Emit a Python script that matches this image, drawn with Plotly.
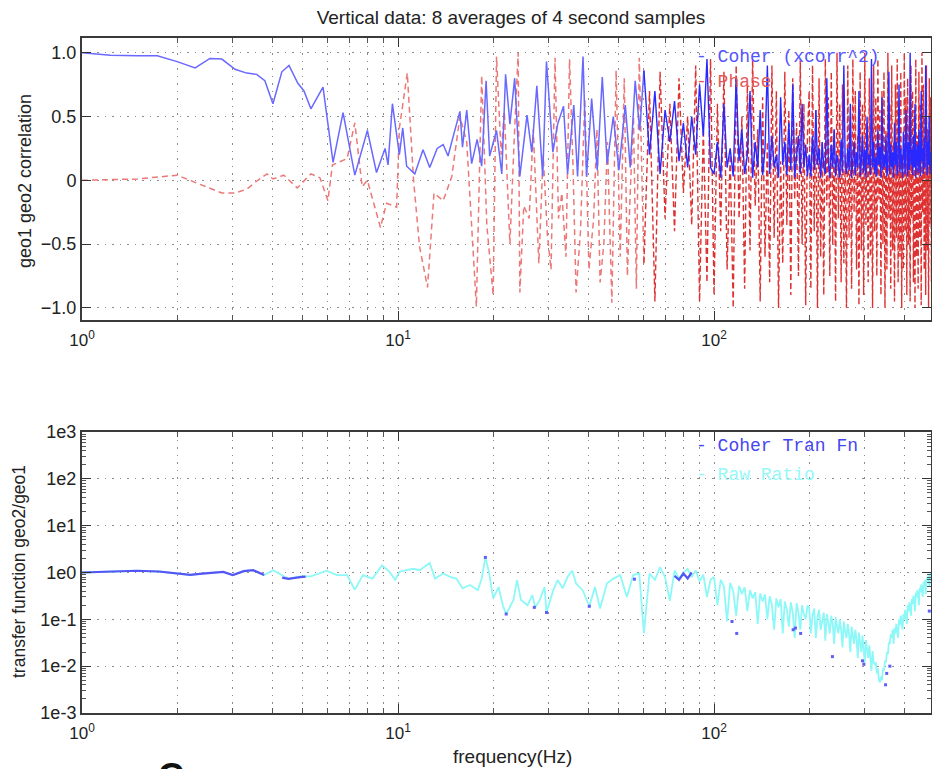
import numpy as np
import plotly.graph_objects as go

# ---------------- data ----------------
# Top panel: coherence (xcorr^2), frequencies in Hz
coh_lo_f = [1.0, 1.23, 1.5, 1.73, 2.0, 2.28, 2.54, 2.77, 3.05, 3.32, 3.57, 3.79, 4.02, 4.29, 4.52, 4.82,
            5.04, 5.3, 5.79, 6.23, 6.7, 7.3, 8.0, 8.55, 9.1, 9.3, 9.6, 10.1, 10.35, 10.65, 11.3, 12.0, 12.6,
            13.3, 13.9, 14.4, 14.9, 15.7, 16.0, 16.5, 17.1, 17.8, 18.4, 19.0, 19.5, 20.5, 21.3, 21.9, 22.6,
            23.4, 24.3, 25.6, 26.5, 27.5, 28.7, 29.5, 30.9, 32.0, 33.4, 34.4, 36.0, 37.0, 38.5, 39.5, 41.0,
            42.7, 44.3, 45.9, 48.0, 50.0, 52.4, 54.3, 56.3, 58.2]
coh_lo_v = [1.0, .98, .975, .975, .93, .88, .955, .95, .87, .84, .83, .78, .6, .85, .9, .76, .7, .56, .73,
            .14, .53, .04, .39, .06, .25, .12, .6, .2, .41, .11, .05, .24, .1, .25, .28, .19, .33, .54, .26,
            .55, .13, .32, .11, .78, .19, .39, .05, .83, .44, .8, .03, .51, .22, .74, .03, .93, .22, .44, .58,
            .05, .59, .03, .97, .03, .64, .08, .81, .13, .5, .08, .59, .1, .78, .39]
# 60 Hz upward, one value per 2.5 Hz bin
coh_hi = [.86, .2, .7, .05, .55, .3, .62, .15, .45, .1, .5, .2, .75, .35, .95, .1,
          .05, .3, .02, .6, .1, .25, .03, .8, .15, .4, .05, .2, .7, .02, .3, .1, .55, .04, .25, .9,
          .05, .35, .1, .2, .02, .65, .12, .3, .04, .45, .08, .75, .02, .2, .35, .05, .6, .1, .28, .03,
          .2, .03, .35, .08, .55, .12, .25, .02, .3, .1, .05, .8, .15, .02, .28, .1, .4, .03, .2, .12,
          .02, .32, .06, .9, .15, .05, .25, .08, .6, .02, .18, .3, .04, .22, .1, .7, .03, .15, .35, .06,
          .24, .02, .5, .12, .2, .04, .95, .1, .3, .05, .18, .03, .4, .12, .26, .02, .65, .08, .2, .1,
          .35, .03, .15, .85, .05, .28, .1, .22, .02, .45, .12, .3, .04, .18, .75, .06, .25, .1, .02, .38,
          .15, .05, .55, .2, .03, .3, .08, 1.0, .12, .24, .04, .35, .1, .6, .02, .2, .28, .06, .4, .12,
          .03, .7, .15, .25, .05, .33, .1, .9, .2, .04, .3, .12, .5, .05, .22, .08, .35]

# Top panel: phase
ph_lo_f = [1.0, 1.5, 2.0, 2.34, 2.77, 3.05, 3.32, 3.6, 3.85, 4.02, 4.35, 4.8, 5.3, 5.66, 6.0, 6.2, 6.9, 7.3,
           7.7, 8.0, 8.8, 9.2, 9.9, 10.1, 10.7, 11.2, 11.7, 12.4, 13.0, 13.9, 14.8, 15.7, 16.5, 17.7, 18.4,
           19.1, 20.0, 20.5, 21.2, 21.7, 22.6, 23.3, 24.0, 24.3, 25.0, 26.0, 26.8, 27.9, 28.8, 29.7, 30.5,
           31.4, 32.2, 33.0, 34.0, 34.9, 35.8, 36.6, 37.8, 39.0, 40.2, 41.6, 42.6, 43.6, 44.8, 46.0, 47.5,
           49.0, 50.5, 52.0, 53.2, 54.3, 55.6, 56.8, 58.0]
ph_lo_v = [0, .01, .04, -.03, -.1, -.1, -.07, 0, .05, .01, .04, -.06, .05, .02, -.16, .12, .17, .45, -.05, 0,
           -.37, -.18, -.21, .41, .84, 0, -.52, -.84, -.1, -.16, .03, .5, .3, -.99, .82, -.35, -.9, .97, .2,
           .54, -.5, .3, 1.0, -.88, -.2, -.3, .4, -.65, .2, -.43, -.7, .96, -.3, -.1, -.6, .95, .1, -.88, -.4,
           .64, -.7, -.3, .4, -.8, -.5, .3, -.96, .86, -.6, .8, -.75, -.1, .5, -.85, .96]
ph_hi = [-.65, .7, -.95, .85, -.3, .6, -.4, .8, -.1, .5, -.35, .9, -.95, .4, -.8, .95,
         -.9, .6, -.4, .85, -.7, .2, -1.0, .9, -.3, .5, -.85, .75, -.55, .95, -.2, .4, -.95, .65, -.6, .3,
         -.8, .9, -.45, .7, -1.0, .15, -.65, .85, -.35, .55, -.9, .8, -.15, .45, -.75, .95, -.5, .6, -.98, .35,
         .7, -.85, .9, -.4, .55, -1.0, .8, -.6, .3, -.9, .95, -.2, .65, -.75, .85, -.5, .4, -.95, 1.0, -.3,
         .6, -.8, .75, -.65, .2, -1.0, .9, -.45, .5, -.85, .95, -.25, .7, -.7, .35, -.98, .85, -.55, .6, -.9,
         1.0, -.35, .45, -.8, .8, -.6, .25, -1.0, .9, -.4, .65, -.75, .95, -.15, .55, -.9, .7, -.5, .85, -1.0,
         .4, -.7, 1.0, -.3, .6, -.85, .9, -.55, .3, -.95, .75, -.45, .95, -.8, .5, -.6, .85, -1.0, .2, -.7,
         1.0, -.4, .65, -.9, .8, -.5, .45, -.95, .9, -.3, .7, -.8, .55, -1.0, .95, -.6, .35, -.85, .85, -.45,
         .6, -.98, 1.0, -.25, .75, -.7, .5, -.9, .9, -.55, .4, -1.0, .8, -.35, .65, -.8, .95]

# Bottom panel: raw ratio geo2/geo1
raw_lo_f = [1.0, 1.25, 1.49, 1.75, 2.04, 2.2, 2.4, 2.6, 2.8, 3.0, 3.25, 3.48, 3.77, 4.03, 4.35, 4.5, 4.9, 5.3,
            5.95, 6.4, 6.9, 7.3, 7.75, 8.3, 8.9, 9.4, 9.8, 10.1, 10.6, 11.2, 11.7, 12.6, 13.1, 13.9, 14.6,
            15.3, 16.0, 16.9, 17.9, 18.4, 18.9, 19.4, 20.0, 20.8, 21.5, 22.0, 23.2, 23.8, 24.5, 25.7, 26.6,
            27.2, 28.1, 29.1, 29.5, 31.0, 32.0, 33.2, 34.4, 35.6, 36.6, 38.4, 40.3, 42.0, 43.6, 45.8, 48.0,
            50.5, 53.0, 55.5, 58.0]
raw_lo_v = [1.0, 1.05, 1.09, 1.05, .92, .89, .95, 1.0, 1.03, .88, 1.07, 1.12, .88, 1.12, .81, .73, .83, .83,
            1.09, .88, .88, .43, .88, .74, 1.43, 1.03, .7, 1.03, 1.12, 1.2, 1.12, 1.6, .74, .95, .81, .74, .46,
            .54, .42, .74, 2.1, 1.03, .28, .49, .19, .13, .26, .69, .26, .2, .33, .18, .26, .49, .14, .42, .69,
            .46, .81, 1.09, .58, .42, .19, .49, .17, .58, .74, .88, .3, .88, .95]
raw_hi = [.05, .95, .7, 1.3, .8, .25, 1.1, .75, 1.0, 1.2, .8, 1.1, .65, .9, .3, .7,
          .8, .2, .7, .5, .09, .6, .4, .12, .52, .35, .48, .15, .42, .28, .38, .08, .36, .24, .34, .1,
          .31, .2, .06, .28, .18, .27, .05, .24, .16, .07, .23, .14, .04, .22, .14, .06, .2, .13, .1, .19,
          .18, .05, .12, .17, .04, .11, .16, .06, .1, .14, .035, .13, .085, .05, .12, .08, .03, .11, .07, .05,
          .1, .06, .025, .09, .055, .04, .08, .05, .02, .07, .045, .03, .06, .038, .015, .052, .032, .02, .045, .027,
          .012, .036, .021, .015, .028, .016, .008, .021, .012, .011, .012, .007, .009, .005, .0045, .006, .005,
          .009, .008, .013, .012, .02, .018, .032, .03, .048, .04, .06, .03, .065, .05, .08, .06, .04, .1, .075,
          .12, .09, .06, .13, .1, .16, .12, .08, .2, .15, .23, .17, .12, .27, .21, .32, .25, .15, .37, .3,
          .42, .33, .2, .47, .38, .55, .43, .3, .62, .5, .7, .35, .6, .8, .68, .9, .5, .85, 1.0, .9, 1.1]

# Bottom panel: coherent transfer function (only where coherent)
tf_lo_f = [1.0, 1.25, 1.49, 1.75, 2.04, 2.2, 2.4, 2.6, 2.8, 3.0, 3.25, 3.48, 3.77]
tf_lo_v = [1.0, 1.05, 1.09, 1.05, .92, .89, .95, 1.0, 1.03, .88, 1.07, 1.12, .88]
tf_mid_f = [4.3, 4.5, 4.9, 5.1]
tf_mid_v = [.78, .73, .8, .82]
tf_hf_f = [75, 77.5, 80, 82.5, 85]
tf_hf_v = [.85, .7, .95, .75, 1.0]
tf_dot_f = [18.9, 22.0, 27.0, 29.5, 40.3, 56.0, 114, 118, 178, 181, 188, 237, 295, 298, 349, 352, 360, 480]
tf_dot_v = [2.1, .13, .18, .14, .19, .72, .09, .05, .06, .065, .05, .016, .013, .011, .004, .007, .01, .15]

HI_START, HI_STEP = 60.0, 2.5

# ---------------- figure ----------------
W, H = 932, 769
FONT = "Liberation Sans"
MONO = "Liberation Mono"


def hi_grid(vals):
    return list(HI_START + HI_STEP * np.arange(len(vals)))


fig = go.Figure()

red_lo = dict(color="rgb(236,120,120)", width=1.5, dash="6px,4px")
red_hi = dict(color="rgb(222,50,50)", width=1.4, dash="6px,3px")
blue_lo = dict(color="rgb(105,105,255)", width=1.5)
blue_hi = dict(color="rgb(40,40,255)", width=1.4)

fig.add_trace(go.Scatter(x=ph_lo_f + [HI_START], y=ph_lo_v + [ph_hi[0]], mode="lines", line=red_lo,
                         xaxis="x", yaxis="y"))
fig.add_trace(go.Scatter(x=hi_grid(ph_hi), y=ph_hi, mode="lines", line=red_hi, xaxis="x", yaxis="y"))
fig.add_trace(go.Scatter(x=coh_lo_f + [HI_START], y=coh_lo_v + [coh_hi[0]], mode="lines", line=blue_lo,
                         xaxis="x", yaxis="y"))
fig.add_trace(go.Scatter(x=hi_grid(coh_hi), y=coh_hi, mode="lines", line=blue_hi, xaxis="x", yaxis="y"))

cyan = dict(color="rgb(140,248,248)", width=1.8)
tfblue = dict(color="rgb(85,85,245)", width=2.2)
fig.add_trace(go.Scatter(x=raw_lo_f + hi_grid(raw_hi), y=raw_lo_v + raw_hi, mode="lines", line=cyan,
                         xaxis="x2", yaxis="y2"))
for fx, fy in [(tf_lo_f, tf_lo_v), (tf_mid_f, tf_mid_v), (tf_hf_f, tf_hf_v)]:
    fig.add_trace(go.Scatter(x=fx, y=fy, mode="lines", line=tfblue, xaxis="x2", yaxis="y2"))
fig.add_trace(go.Scatter(x=tf_dot_f, y=tf_dot_v, mode="markers",
                         marker=dict(color="rgb(95,95,245)", size=3, symbol="square"),
                         xaxis="x2", yaxis="y2"))

x_dom = [82 / W, 931 / W]
top_dom = [1 - 320 / H, 1 - 38 / H]
bot_dom = [1 - 713 / H, 1 - 432 / H]

x_minor = [k * 10 ** d for d in range(0, 3) for k in range(2, 10) if k * 10 ** d < 490]
y_minor = [k * 10.0 ** d for d in range(-3, 3) for k in range(2, 10)]

GRID = "rgb(140,140,140)"
GDASH = "1.5px,6px"


def xaxis(anchor):
    return dict(type="log", range=[0, np.log10(486)], domain=x_dom, anchor=anchor,
                tickvals=[1, 10, 100], ticktext=["10<sup>0</sup>", "10<sup>1</sup>", "10<sup>2</sup>"],
                ticks="inside", ticklen=9, tickwidth=1.2, tickcolor="#333",
                showline=True, linecolor="#3a3a3a", linewidth=2, mirror="ticks",
                showgrid=True, gridcolor=GRID, griddash=GDASH, gridwidth=1,
                minor=dict(tickvals=x_minor, ticks="inside", ticklen=5, tickcolor="#555",
                           showgrid=True, gridcolor=GRID, griddash=GDASH, gridwidth=1),
                tickfont=dict(family=FONT, size=17, color="#222"), ticklabelstandoff=4,
                zeroline=False, automargin=False)


fig.update_layout(
    width=W, height=H, margin=dict(l=0, r=0, t=0, b=0), autosize=False,
    paper_bgcolor="white", plot_bgcolor="white", showlegend=False,
    xaxis=xaxis("y"),
    xaxis2=xaxis("y2"),
    yaxis=dict(range=[-1.095, 1.115], domain=top_dom, anchor="x",
               tickvals=[-1, -0.5, 0, 0.5, 1], ticktext=["\u22121.0", "\u22120.5", "0", "0.5", "1.0"],
               ticks="inside", ticklen=9, tickwidth=1.2, tickcolor="#333",
               showline=True, linecolor="#3a3a3a", linewidth=2, mirror="ticks",
               showgrid=True, gridcolor=GRID, griddash=GDASH, zeroline=False,
               tickfont=dict(family=FONT, size=18, color="#222"), ticklabelstandoff=0,
               automargin=False),
    yaxis2=dict(type="log", range=[-3, 3], domain=bot_dom, anchor="x2",
                tickvals=[1e-3, 1e-2, 1e-1, 1, 10, 100, 1000],
                ticktext=["1e-3", "1e-2", "1e-1", "1e0", "1e1", "1e2", "1e3"],
                ticks="inside", ticklen=9, tickwidth=1.2, tickcolor="#333",
                showline=True, linecolor="#3a3a3a", linewidth=2, mirror="ticks",
                showgrid=True, gridcolor=GRID, griddash=GDASH, zeroline=False,
                minor=dict(tickvals=y_minor, ticks="inside", ticklen=4, tickcolor="#555", showgrid=False),
                tickfont=dict(family=FONT, size=18, color="#222"), ticklabelstandoff=0,
                automargin=False),
    title=dict(text="Vertical data: 8 averages of 4 second samples", x=511 / W, y=1 - 17 / H,
               xanchor="center", yanchor="middle", font=dict(family=FONT, size=19, color="#222")),
)

ann = [
    dict(text="geo1 geo2 correlation", x=25 / W, y=1 - 181 / H, textangle=-90,
         font=dict(family=FONT, size=18, color="#222")),
    dict(text="transfer function geo2/geo1", x=19 / W, y=1 - 572 / H, textangle=-90,
         font=dict(family=FONT, size=17.5, color="#222")),
    dict(text="frequency(Hz)", x=512 / W, y=1 - 756 / H, font=dict(family=FONT, size=19, color="#222")),
    dict(text="- Coher (xcorr^2)", x=694 / W, y=1 - 57 / H, xanchor="left",
         font=dict(family=MONO, size=18, color="rgb(85,85,255)")),
    dict(text="- Phase", x=694 / W, y=1 - 82 / H, xanchor="left",
         font=dict(family=MONO, size=18, color="rgb(228,90,90)")),
    dict(text="- Coher Tran Fn", x=694 / W, y=1 - 446 / H, xanchor="left",
         font=dict(family=MONO, size=18, color="rgb(70,70,240)")),
    dict(text="- Raw Ratio", x=694 / W, y=1 - 475 / H, xanchor="left",
         font=dict(family=MONO, size=18, color="rgb(150,248,248)")),
    dict(text="<b>C</b>", x=171 / W, y=1 - 754 / H, xanchor="center", yanchor="top",
         font=dict(family=FONT, size=36, color="#111")),
]
for a in ann:
    a.setdefault("xref", "paper")
    a.setdefault("yref", "paper")
    a.setdefault("showarrow", False)
    a.setdefault("xanchor", "center")
    a.setdefault("yanchor", "middle")
fig.update_layout(annotations=ann)

fig.write_html("out.html")
